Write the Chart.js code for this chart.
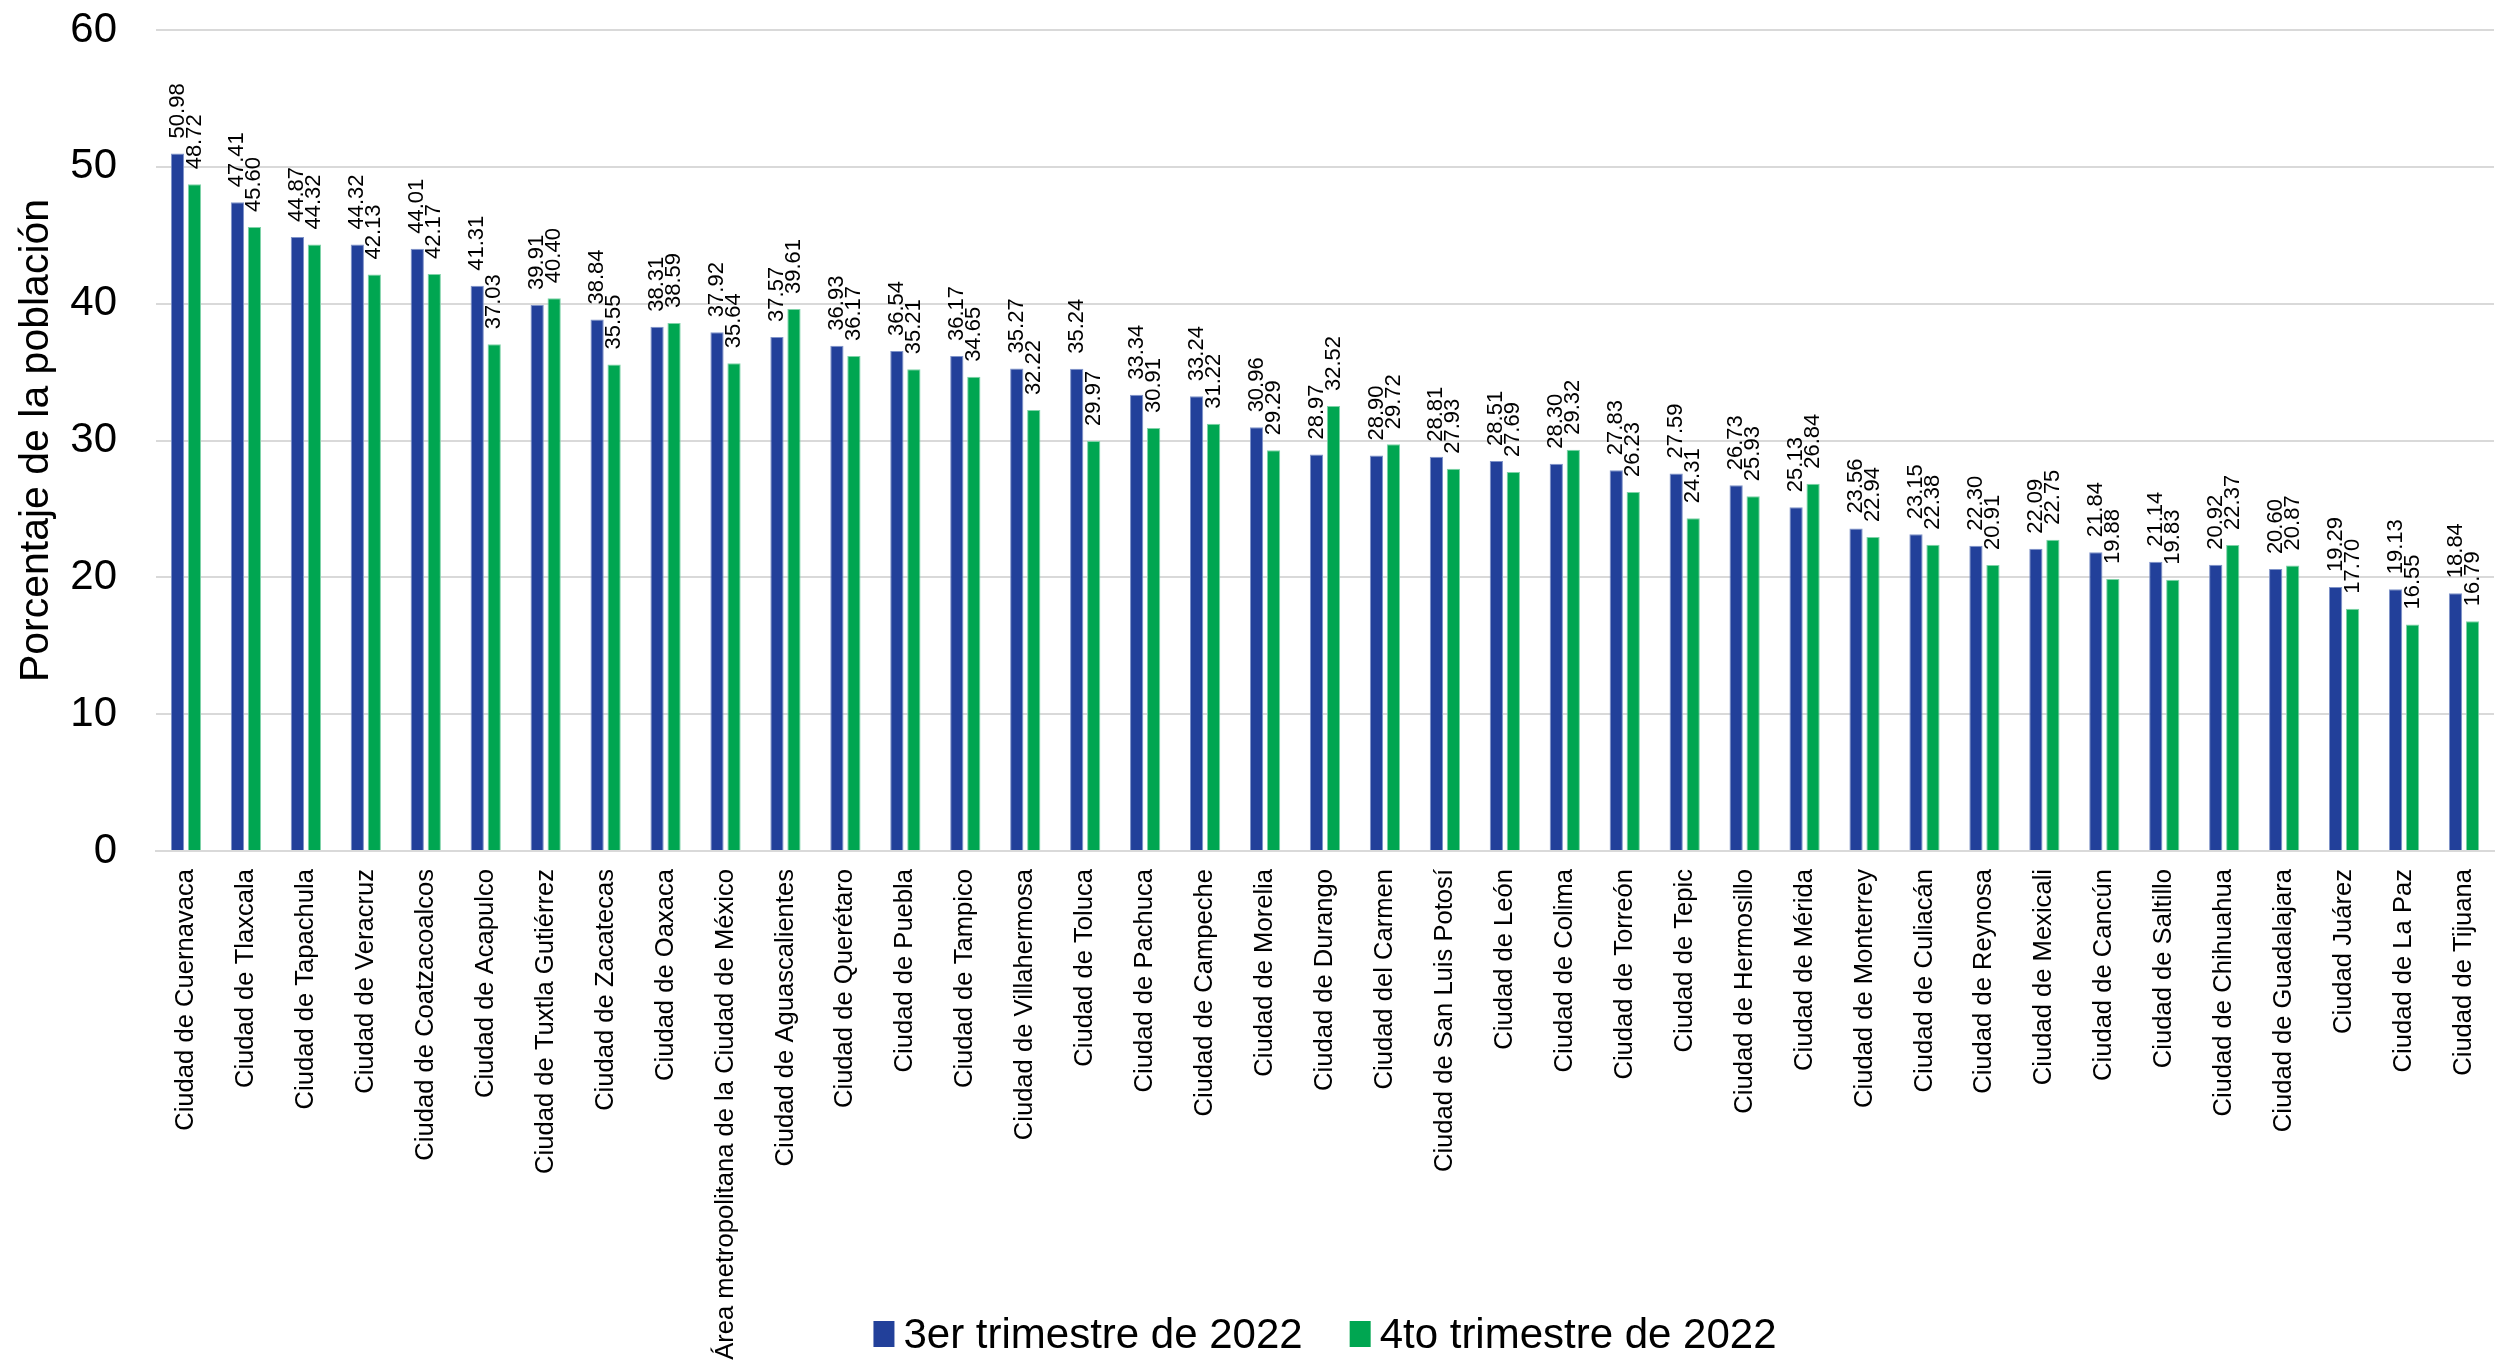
<!DOCTYPE html>
<html>
<head>
<meta charset="utf-8">
<script src="https://cdn.jsdelivr.net/npm/chart.js@4.4.1/dist/chart.umd.min.js"></script>
<style>
  html, body { margin: 0; padding: 0; background: #fff; }
  #wrap { width: 2506px; height: 1361px; }
</style>
</head>
<body>
<div id="wrap"><canvas id="chart" width="2506" height="1361"></canvas></div>
<script>
// ciudades, ordenadas como en la gráfica
const ciudades = [
  "Ciudad de Cuernavaca", "Ciudad de Tlaxcala", "Ciudad de Tapachula", "Ciudad de Veracruz",
  "Ciudad de Coatzacoalcos", "Ciudad de Acapulco", "Ciudad de Tuxtla Gutiérrez", "Ciudad de Zacatecas",
  "Ciudad de Oaxaca", "Área metropolitana de la Ciudad de México", "Ciudad de Aguascalientes",
  "Ciudad de Querétaro", "Ciudad de Puebla", "Ciudad de Tampico", "Ciudad de Villahermosa",
  "Ciudad de Toluca", "Ciudad de Pachuca", "Ciudad de Campeche", "Ciudad de Morelia",
  "Ciudad de Durango", "Ciudad del Carmen", "Ciudad de San Luis Potosí", "Ciudad de León",
  "Ciudad de Colima", "Ciudad de Torreón", "Ciudad de Tepic", "Ciudad de Hermosillo",
  "Ciudad de Mérida", "Ciudad de Monterrey", "Ciudad de Culiacán", "Ciudad de Reynosa",
  "Ciudad de Mexicali", "Ciudad de Cancún", "Ciudad de Saltillo", "Ciudad de Chihuahua",
  "Ciudad de Guadalajara", "Ciudad Juárez", "Ciudad de La Paz", "Ciudad de Tijuana"
];

const tercerTrim = [
  50.98, 47.41, 44.87, 44.32, 44.01, 41.31, 39.91, 38.84, 38.31, 37.92, 37.57,
  36.93, 36.54, 36.17, 35.27, 35.24, 33.34, 33.24, 30.96, 28.97, 28.90, 28.81,
  28.51, 28.30, 27.83, 27.59, 26.73, 25.13, 23.56, 23.15, 22.30, 22.09, 21.84,
  21.14, 20.92, 20.60, 19.29, 19.13, 18.84
];

const cuartoTrim = [
  48.72, 45.60, 44.32, 42.13, 42.17, 37.03, 40.40, 35.55, 38.59, 35.64, 39.61,
  36.17, 35.21, 34.65, 32.22, 29.97, 30.91, 31.22, 29.29, 32.52, 29.72, 27.93,
  27.69, 29.32, 26.23, 24.31, 25.93, 26.84, 22.94, 22.38, 20.91, 22.75, 19.88,
  19.83, 22.37, 20.87, 17.70, 16.55, 16.79
];

const serieNombres = ["3er trimestre de 2022", "4to trimestre de 2022"];
const yTicks = [0, 10, 20, 30, 40, 50, 60];

const FONT = "'Liberation Sans', Arial, Helvetica, sans-serif";

// etiquetas verticales encima de cada barra
const etiquetasBarras = {
  id: "etiquetasBarras",
  afterDatasetsDraw(chart) {
    const ctx = chart.ctx;
    ctx.save();
    ctx.fillStyle = "#000";
    ctx.font = "22px " + FONT;
    ctx.textAlign = "left";
    ctx.textBaseline = "middle";
    chart.data.datasets.forEach((ds, di) => {
      const meta = chart.getDatasetMeta(di);
      meta.data.forEach((bar, i) => {
        ctx.save();
        ctx.translate(bar.x, bar.y - 15);
        ctx.rotate(-Math.PI / 2);
        ctx.fillText(ds.data[i].toFixed(2), 0, 0);
        ctx.restore();
      });
    });
    ctx.restore();
  }
};

// leyenda abajo, dibujada a mano para que no recorte las etiquetas del eje x
const leyendaAbajo = {
  id: "leyendaAbajo",
  afterDraw(chart) {
    const ctx = chart.ctx;
    const boxW = 21, boxH = 26, gap = 9, sep = 47, yc = 1334;
    ctx.save();
    ctx.font = "42px " + FONT;
    ctx.textBaseline = "middle";
    ctx.textAlign = "left";
    const items = chart.data.datasets.map(ds => ({
      text: ds.label,
      color: ds.backgroundColor,
      w: ctx.measureText(ds.label).width
    }));
    let total = 0;
    items.forEach((it, i) => { total += boxW + gap + it.w + (i > 0 ? sep : 0); });
    const area = chart.chartArea;
    let x = (area.left + area.right) / 2 - total / 2;
    items.forEach(it => {
      ctx.fillStyle = it.color;
      ctx.fillRect(x, yc - boxH / 2, boxW, boxH);
      x += boxW + gap;
      ctx.fillStyle = "#000";
      ctx.fillText(it.text, x, yc + 2);
      x += it.w + sep;
    });
    ctx.restore();
  }
};

new Chart(document.getElementById("chart"), {
  type: "bar",
  data: {
    labels: ciudades,
    datasets: [
      {
        label: serieNombres[0],
        data: tercerTrim,
        backgroundColor: "#22409A",
        borderColor: "#7f93c9",
        borderWidth: 1,
        categoryPercentage: 0.567,
        barPercentage: 0.78
      },
      {
        label: serieNombres[1],
        data: cuartoTrim,
        backgroundColor: "#00A651",
        borderColor: "#7fd3a8",
        borderWidth: 1,
        categoryPercentage: 0.567,
        barPercentage: 0.78
      }
    ]
  },
  options: {
    responsive: false,
    animation: false,
    layout: { padding: { top: 30, right: 12, bottom: 0, left: 0 } },
    plugins: {
      tooltip: { enabled: false },
      legend: { display: false }
    },
    scales: {
      x: {
        grid: { display: false, drawTicks: false },
        border: { display: true, color: "#d9d9d9", width: 2 },
        ticks: {
          autoSkip: false,
          minRotation: 90,
          maxRotation: 90,
          padding: 18,
          color: "#000",
          font: { family: FONT, size: 25.6 }
        },
        afterFit(scale) {
          scale.height = 510;
          scale.paddingLeft = 0;
          scale.paddingRight = 0;
        }
      },
      y: {
        min: 0,
        max: 60,
        afterBuildTicks(scale) { scale.ticks = yTicks.map(v => ({ value: v })); },
        grid: { color: "#d9d9d9", lineWidth: 2, drawTicks: false },
        border: { display: false },
        ticks: {
          padding: 39,
          color: "#000",
          font: { family: FONT, size: 42 }
        },
        title: {
          display: true,
          text: "Porcentaje de la población",
          color: "#000",
          font: { family: FONT, size: 41 },
          padding: { top: 12, bottom: 0 }
        },
        afterFit(scale) {
          scale.width = 156;
          scale.paddingTop = 0;
          scale.paddingBottom = 0;
        }
      }
    }
  },
  plugins: [etiquetasBarras, leyendaAbajo]
});
</script>
</body>
</html>
